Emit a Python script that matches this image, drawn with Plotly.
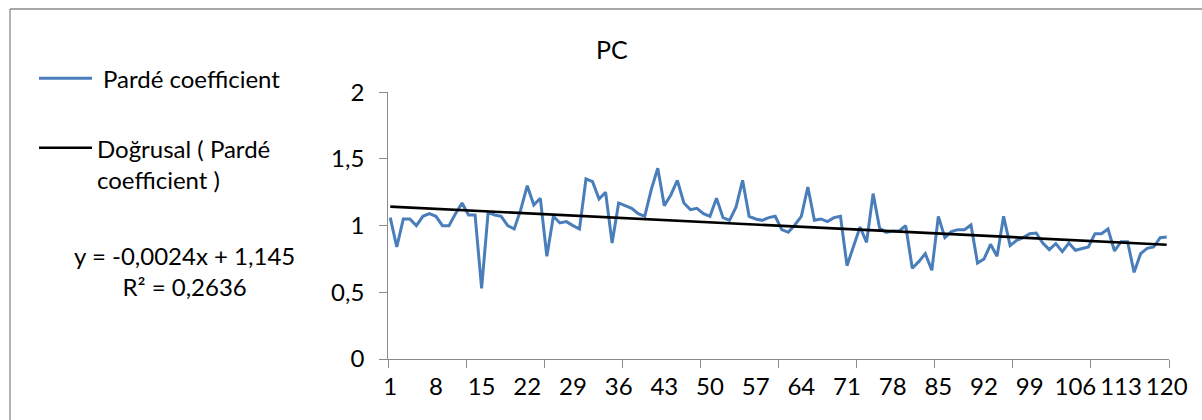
import numpy as np
import plotly.graph_objects as go

# Pardé coefficient per period (1..120)
periods = list(range(1, 121))
parde = [
    1.06, 0.84, 1.05, 1.05, 1.00, 1.07, 1.09, 1.07, 1.00, 1.00,
    1.09, 1.17, 1.08, 1.08, 0.53, 1.10, 1.08, 1.07, 1.00, 0.975,
    1.12, 1.30, 1.155, 1.205, 0.77, 1.07, 1.02, 1.03, 1.00, 0.975,
    1.35, 1.33, 1.20, 1.25, 0.87, 1.17, 1.15, 1.13, 1.09, 1.07,
    1.27, 1.43, 1.15, 1.23, 1.34, 1.17, 1.12, 1.13, 1.09, 1.07,
    1.205, 1.06, 1.04, 1.14, 1.34, 1.07, 1.05, 1.04, 1.06, 1.07,
    0.97, 0.95, 1.005, 1.07, 1.29, 1.04, 1.05, 1.03, 1.06, 1.07,
    0.70, 0.84, 0.99, 0.875, 1.24, 0.98, 0.95, 0.96, 0.96, 1.00,
    0.68, 0.73, 0.79, 0.665, 1.07, 0.91, 0.955, 0.97, 0.97, 1.005,
    0.72, 0.75, 0.86, 0.77, 1.07, 0.85, 0.89, 0.91, 0.94, 0.945,
    0.87, 0.82, 0.865, 0.805, 0.87, 0.815, 0.83, 0.84, 0.94, 0.94,
    0.975, 0.81, 0.88, 0.88, 0.65, 0.79, 0.83, 0.84, 0.91, 0.915,
]

# Linear trend as reported on the chart
trend_slope = -0.0024
trend_intercept = 1.145
trend_label = "y = -0,0024x + 1,145<br>R² = 0,2636"

x_tick_labels = list(range(1, 121, 7))
y_tick_vals = [0, 0.5, 1, 1.5, 2]
y_tick_text = ["0", "0,5", "1", "1,5", "2"]

series_name = "Pardé coefficient"
trend_name = "Doğrusal ( Pardé<br>coefficient )"
title_text = "PC"

W, H = 1202, 420
FONT = "Lato"
FS = 24
AXIS_GREY = "#8a8a8a"
BLUE = "#4A7EBB"


def px(x):
    return x / W


def py(y):
    return 1 - y / H


x_range = [0.7, 120.35]
trend_y = [trend_slope * p + trend_intercept for p in periods]

fig = go.Figure()
fig.add_trace(go.Scatter(x=periods, y=parde, mode="lines",
                         line=dict(color=BLUE, width=3), name=series_name,
                         showlegend=False))
fig.add_trace(go.Scatter(x=[periods[0], periods[-1]],
                         y=[trend_y[0], trend_y[-1]], mode="lines",
                         line=dict(color="black", width=2.6), name="trend",
                         showlegend=False))

fig.update_layout(
    width=W, height=H,
    margin=dict(l=0, r=0, t=0, b=0, autoexpand=False),
    paper_bgcolor="white", plot_bgcolor="white",
    font=dict(family=FONT, size=FS, color="black"),
    xaxis=dict(
        domain=[px(388.3), px(1169)], range=x_range,
        tickvals=x_tick_labels, ticktext=[str(v) for v in x_tick_labels],
        ticks="outside", ticklen=6, tickcolor="rgba(0,0,0,0)",
        showline=True, linecolor=AXIS_GREY, linewidth=1.3,
        showgrid=False, zeroline=False, automargin=False,
        tickfont=dict(family=FONT, size=FS),
    ),
    xaxis2=dict(
        overlaying="x", anchor="y", side="bottom", range=x_range,
        tickvals=list(np.linspace(x_range[0], x_range[1], 11)),
        ticks="outside", ticklen=8, tickcolor=AXIS_GREY, tickwidth=1.3,
        showticklabels=False, showline=False, showgrid=False, zeroline=False,
        automargin=False,
    ),
    yaxis=dict(
        domain=[py(359), py(92.3)], range=[0, 2],
        tickvals=y_tick_vals, ticktext=y_tick_text,
        ticks="outside", ticklen=8, tickcolor=AXIS_GREY, tickwidth=1.3,
        ticklabelstandoff=10,
        showline=True, linecolor=AXIS_GREY, linewidth=1.3,
        showgrid=False, zeroline=False, automargin=False,
        tickfont=dict(family=FONT, size=FS),
    ),
)

# invisible trace to activate the tick-mark axis
fig.add_trace(go.Scatter(x=[x_range[0]], y=[0], xaxis="x2", mode="markers",
                         marker=dict(opacity=0), showlegend=False,
                         hoverinfo="skip"))

shapes = [
    # chart area border (top and left edges)
    dict(type="line", xref="paper", yref="paper", x0=px(10), x1=px(1250),
         y0=py(9), y1=py(9), line=dict(color=AXIS_GREY, width=1.3)),
    dict(type="line", xref="paper", yref="paper", x0=px(10), x1=px(10),
         y0=py(9), y1=py(460), line=dict(color=AXIS_GREY, width=1.3)),
    # legend samples
    dict(type="line", xref="paper", yref="paper", x0=px(39), x1=px(92),
         y0=py(78.3), y1=py(78.3), line=dict(color=BLUE, width=3)),
    dict(type="line", xref="paper", yref="paper", x0=px(39), x1=px(92),
         y0=py(147.7), y1=py(147.7), line=dict(color="black", width=2.6)),
]

annotations = [
    dict(text=title_text, x=px(611.7), y=py(49.3), xref="paper", yref="paper",
         xanchor="center", yanchor="middle", showarrow=False,
         font=dict(family=FONT, size=25)),
    dict(text=series_name, x=px(101), y=py(78.3), xref="paper", yref="paper",
         xanchor="left", yanchor="middle", showarrow=False,
         font=dict(family=FONT, size=FS)),
    dict(text=trend_name, x=px(95), y=py(132), xref="paper", yref="paper",
         xanchor="left", yanchor="top", align="left", showarrow=False,
         font=dict(family=FONT, size=FS)),
    dict(text=trend_label, x=px(184), y=py(239), xref="paper", yref="paper",
         xanchor="center", yanchor="top", align="center", showarrow=False,
         font=dict(family=FONT, size=FS)),
]

fig.update_layout(shapes=shapes, annotations=annotations)
fig.write_html("out.html")
